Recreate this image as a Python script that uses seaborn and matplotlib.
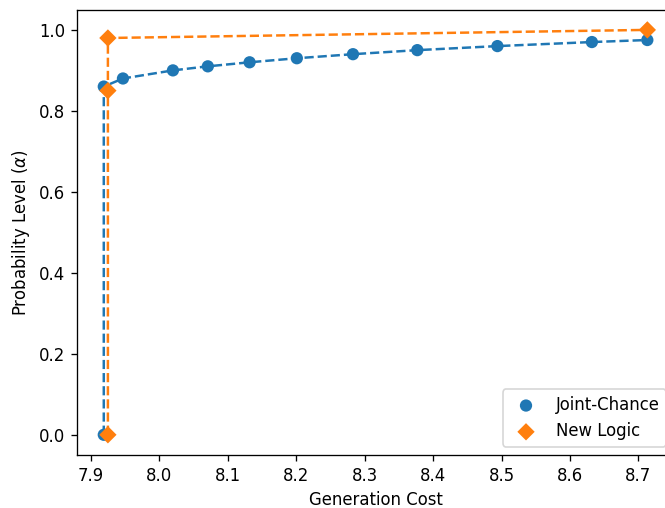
import numpy as np
import pandas as pd
import matplotlib
matplotlib.use('Agg')
import matplotlib.pyplot as plt
import seaborn as sns

# Joint-Chance results (cost, probability level)
jc_cost = [7.919, 7.919, 7.947, 8.020, 8.071, 8.132, 8.201, 8.283, 8.377, 8.494, 8.632, 8.713]
jc_alpha = [0.0, 0.86, 0.88, 0.90, 0.91, 0.92, 0.93, 0.94, 0.95, 0.96, 0.97, 0.975]

# New Logic results
nl_cost = [7.925, 7.925, 7.925, 8.713]
nl_alpha = [0.0, 0.85, 0.98, 1.0]

blue = '#1f77b4'
orange = '#ff7f0e'

fig, ax = plt.subplots(figsize=(665 / 119, 508 / 119), dpi=119)
# axes runs slightly past the right edge of the figure, as in the original crop
fig.subplots_adjust(left=0.1152, right=1.0143, bottom=0.1043, top=0.981)

sns.lineplot(x=jc_cost, y=jc_alpha, ax=ax, color=blue, linestyle='--',
             sort=False, estimator=None, linewidth=1.5)
sns.lineplot(x=nl_cost, y=nl_alpha, ax=ax, color=orange, linestyle='--',
             sort=False, estimator=None, linewidth=1.5)
sns.scatterplot(x=jc_cost, y=jc_alpha, ax=ax, color=blue, marker='o', s=55,
                edgecolor='none', label='Joint-Chance', zorder=3)
sns.scatterplot(x=nl_cost, y=nl_alpha, ax=ax, color=orange, marker='D', s=55,
                edgecolor='none', label='New Logic', zorder=3)

ax.set_xlabel('Generation Cost')
ax.set_ylabel(r'Probability Level ($\alpha$)')
ax.legend(loc='lower right')

plt.savefig('out.png', dpi=119)
